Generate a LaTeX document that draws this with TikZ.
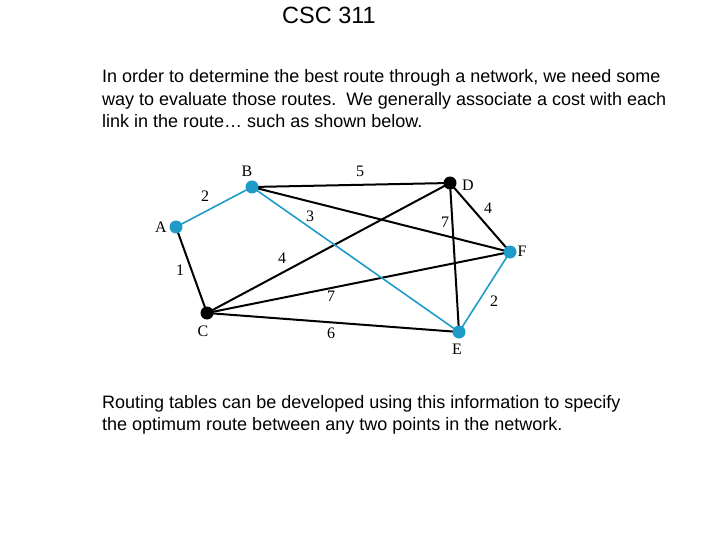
\documentclass[tikz,border=0pt]{standalone}
\usepackage{fontspec}
\setmainfont{Liberation Sans}
\newfontfamily\serifnum{Liberation Serif}
\definecolor{netblue}{RGB}{30,155,200}
\begin{document}
\begin{tikzpicture}[x=1pt,y=-1pt,
  vtx/.style={circle,fill=#1,inner sep=0pt,minimum size=13pt},
  edge/.style={line width=2pt,black},
  bedge/.style={line width=1.6pt,netblue},
  lbl/.style={font=\serifnum\fontsize{16}{18}\selectfont,inner sep=0pt},
  body/.style={font=\fontsize{18}{21}\selectfont,anchor=base west,inner sep=0pt}]
\useasboundingbox (0,0) rectangle (720,540);
\node[font=\fontsize{23.5}{26}\selectfont,anchor=base,inner sep=0pt] (title) at (329,24) {CSC 311};
\node[body] (t1) at (102,83) {In order to determine the best route through a network, we need some};
\node[body] (t2) at (102,106) {way to evaluate those routes.\ \ We generally associate a cost with each};
\node[body] (t3) at (102,128) {link in the route\dots{} such as shown below.};
\node[body] (t4) at (102,408) {Routing tables can be developed using this information to specify};
\node[body] (t5) at (102,430) {the optimum route between any two points in the network.};
% vertices
\coordinate (A) at (176,227);
\coordinate (B) at (252,187);
\coordinate (C) at (207,313);
\coordinate (D) at (450,183);
\coordinate (E) at (459,332);
\coordinate (F) at (510,252);
% edges
\draw[edge] (A) -- (C);
\draw[edge] (B) -- (D);
\draw[edge] (B) -- (F);
\draw[edge] (C) -- (D);
\draw[edge] (C) -- (F);
\draw[edge] (C) -- (E);
\draw[edge] (D) -- (F);
\draw[edge] (D) -- (E);
\draw[bedge] (A) -- (B);
\draw[bedge] (B) -- (E);
\draw[bedge] (E) -- (F);
\node[vtx=netblue] (nA) at (A) {};
\node[vtx=netblue] (nB) at (B) {};
\node[vtx=black] (nC) at (C) {};
\node[vtx=black] (nD) at (D) {};
\node[vtx=netblue] (nE) at (E) {};
\node[vtx=netblue] (nF) at (F) {};
% vertex names
\node[lbl] (lA) at (161,227) {A};
\node[lbl] (lB) at (247,171) {B};
\node[lbl] (lC) at (203,331) {C};
\node[lbl] (lD) at (468,185) {D};
\node[lbl] (lE) at (457,349) {E};
\node[lbl] (lF) at (522,251) {F};
% costs
\node[lbl] (cAB) at (205,196) {2};
\node[lbl] (cAC) at (180,270) {1};
\node[lbl] (cBD) at (360,171) {5};
\node[lbl] (cBE) at (310,216) {3};
\node[lbl] (cCD) at (282,258) {4};
\node[lbl] (cCF) at (331,296) {7};
\node[lbl] (cCE) at (331,333) {6};
\node[lbl] (cDE) at (445,222) {7};
\node[lbl] (cDF) at (488,208) {4};
\node[lbl] (cEF) at (494,301) {2};
\end{tikzpicture}
\end{document}
